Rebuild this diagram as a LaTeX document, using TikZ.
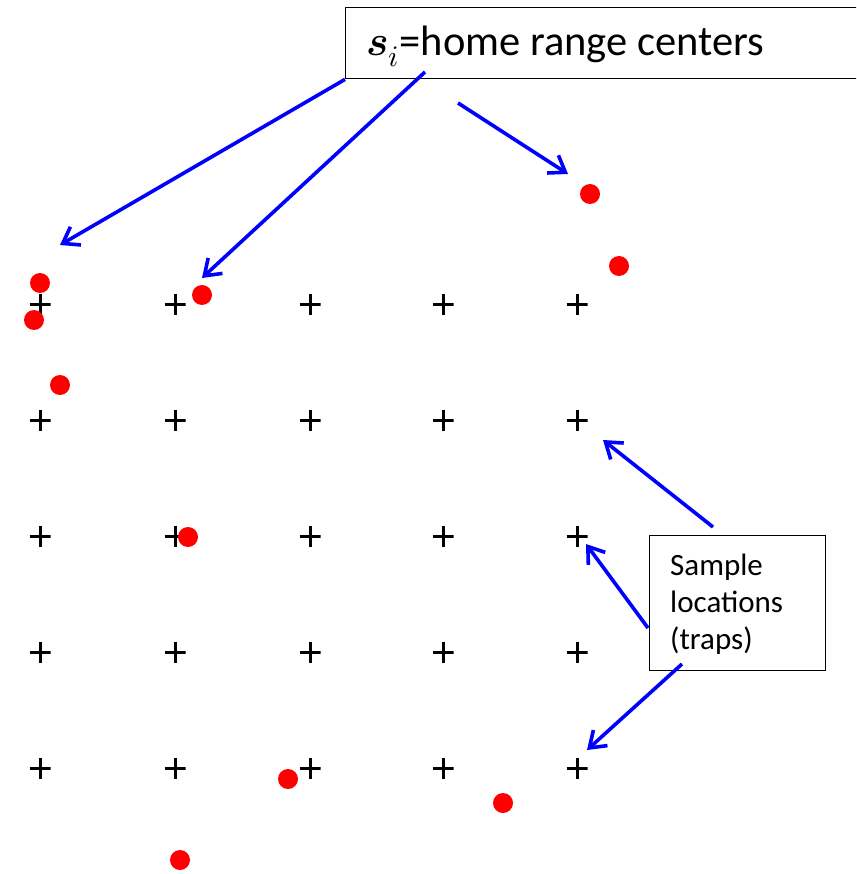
\documentclass[tikz,border=0pt]{standalone}
\usepackage{fontspec}
\usepackage{unicode-math}
\setmainfont{Carlito}
\setmathfont{Latin Modern Math}
\usetikzlibrary{arrows.meta}
\definecolor{arrblue}{RGB}{0,0,255}
\definecolor{dotred}{RGB}{255,0,0}
\tikzset{
  conn/.style={draw=arrblue, line width=3.6pt, -{Straight Barb[length=15pt,width=21pt]}},
  boxed/.style={draw=black, line width=1.4pt, fill=white, inner sep=0pt, anchor=north west},
  trap/.style={inner sep=0pt, minimum size=21pt,
    path picture={\draw[black, line width=3pt] (path picture bounding box.west) -- (path picture bounding box.east)
      (path picture bounding box.north) -- (path picture bounding box.south);}},
  hrc/.style={circle, fill=dotred, inner sep=0pt, minimum size=20pt},
  lbl/.style={inner sep=0pt, anchor=base west},
}
\begin{document}
\begin{tikzpicture}[x=1pt,y=-1pt]
\useasboundingbox (0,0) rectangle (856,874);
\clip (0,0) rectangle (856,874);
% traps
\foreach \c [count=\i] in {40,175,310,443,577}{
  \foreach \r [count=\j] in {304,420,536,652,768}{
    \node[trap] (t\i\j) at (\c,\r) {};
  }
}
% home range centers
\node[hrc] (d1) at (40,283) {};
\node[hrc] (d2) at (34,320) {};
\node[hrc] (d3) at (60,385) {};
\node[hrc] (d4) at (202,295) {};
\node[hrc] (d5) at (590,194) {};
\node[hrc] (d6) at (619,266) {};
\node[hrc] (d7) at (188,537) {};
\node[hrc] (d8) at (288,779) {};
\node[hrc] (d9) at (503,803) {};
\node[hrc] (d10) at (180,860) {};
% top label
\node[boxed, minimum width=540pt, minimum height=71pt] (topbox) at (345,7) {};
\node[lbl, font=\fontsize{42.5}{50}\selectfont] (toplbl) at (366,56) {$\symbfit{s}_{i}$=home range centers};
% sample box
\node[boxed, minimum width=176pt, minimum height=135pt] (sbox) at (649,535) {};
\node[lbl, font=\fontsize{31}{37}\selectfont] (sl1) at (670,575) {Sample};
\node[lbl, font=\fontsize{31}{37}\selectfont] (sl2) at (670,612) {locations};
\node[lbl, font=\fontsize{31}{37}\selectfont] (sl3) at (670,649) {(traps)};
% arrow end points
\coordinate (a2s) at (425,72);
\coordinate (a3s) at (458,103);
\coordinate (a1e) at (60,245);
\coordinate (a2e) at (202,278);
\coordinate (a3e) at (568,174);
\coordinate (a4s) at (713,527);
\coordinate (a4e) at (603,440);
\coordinate (a5s) at (648,628);
\coordinate (a5e) at (586,544);
\coordinate (a6s) at (682,664);
\coordinate (a6e) at (587,750);
\draw[conn] (topbox.south west) -- (a1e);
\draw[conn] (a2s) -- (a2e);
\draw[conn] (a3s) -- (a3e);
\draw[conn] (a4s) -- (a4e);
\draw[conn] (a5s) -- (a5e);
\draw[conn] (a6s) -- (a6e);
\end{tikzpicture}
\end{document}
